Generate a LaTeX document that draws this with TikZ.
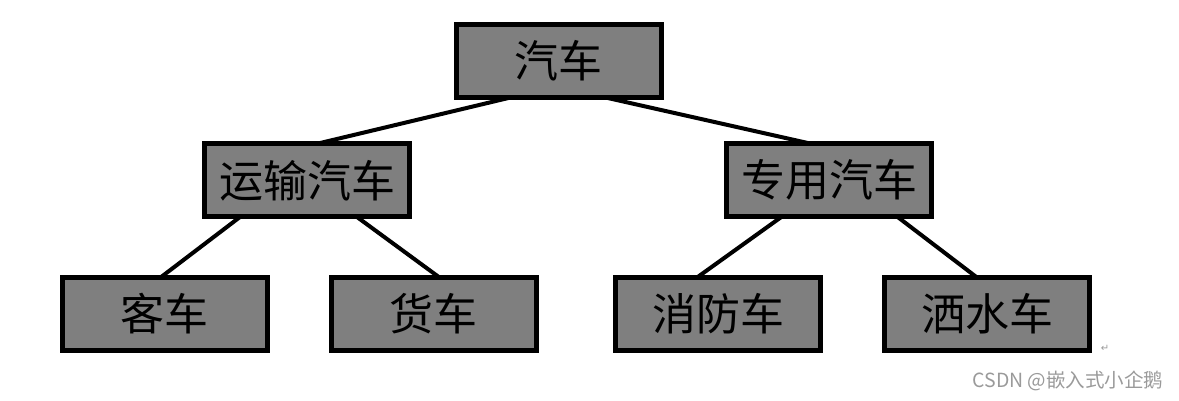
\documentclass[tikz,border=0pt]{standalone}
\usepackage{fontspec}
\setmainfont{Noto Sans CJK SC}
\newfontfamily\symfont{DejaVu Sans}
\definecolor{boxgray}{HTML}{7F7F7F}
\definecolor{markgray}{HTML}{9A9A9A}
\begin{document}
\begin{tikzpicture}[
    x=1pt, y=-1pt,
    box/.style={rectangle, draw=black, line width=5pt, fill=boxgray, minimum width=205pt, minimum height=73pt, inner sep=0pt, outer sep=0pt, font=\fontsize{44}{44}\selectfont},
    link/.style={line width=4pt}
]
\useasboundingbox (0,0) rectangle (1179,401);

% Root
\node[box] (car) at (558.5,61) {汽车};

% Second level
\node[box] (transport) at (307,180.5) {运输汽车};
\node[box] (special) at (829,180) {专用汽车};

% Leaves
\node[box] (bus) at (164.5,314) {客车};
\node[box] (truck) at (433.5,314) {货车};
\node[box] (fire) at (718,314) {消防车};
\node[box] (sprinkler) at (987,314) {洒水车};

% Links
\draw[link] ([xshift=-48pt]car.south) -- ([xshift=9pt]transport.north);
\draw[link] ([xshift=47pt]car.south) -- ([xshift=-19pt]special.north);
\draw[link] ([xshift=-67pt]transport.south) -- ([xshift=-4pt]bus.north);
\draw[link] ([xshift=50pt]transport.south) -- ([xshift=6pt]truck.north);
\draw[link] ([xshift=-47pt]special.south) -- ([xshift=-21pt]fire.north);
\draw[link] ([xshift=68pt]special.south) -- ([xshift=-10pt]sprinkler.north);

% Paragraph mark and watermark
\node[text=markgray, font=\symfont\fontsize{10}{10}\selectfont] (mark) at (1105,348) {↵};
\node[text=markgray, font=\fontsize{19.5}{19.5}\selectfont] (stamp) at (1068,381) {CSDN @嵌入式小企鹅};

\end{tikzpicture}
\end{document}
